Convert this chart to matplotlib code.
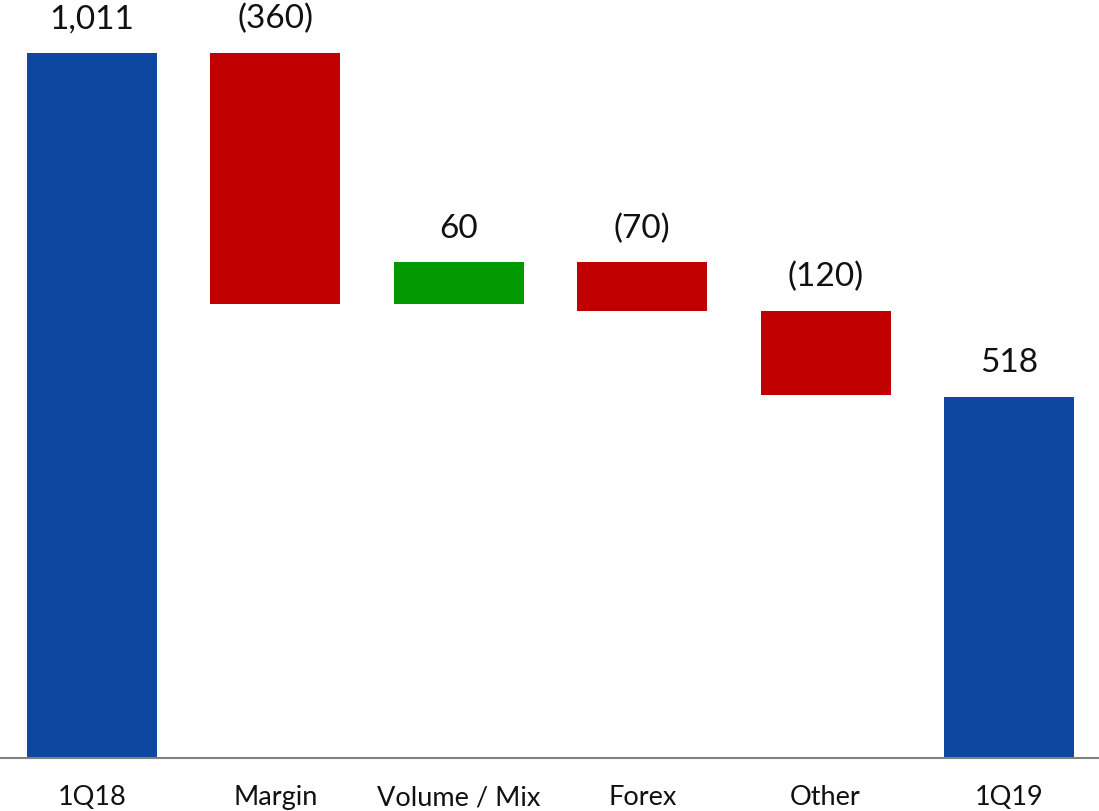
import matplotlib
matplotlib.use("Agg")
import matplotlib.pyplot as plt

categories = ["1Q18", "Margin", "Volume / Mix", "Forex", "Other", "1Q19"]
start_value = 1011
deltas = [-360, 60, -70, -120]
end_value = 518
value_labels = ["1,011", "(360)", "60", "(70)", "(120)", "518"]

BLUE = "#0E47A0"
RED = "#C00000"
GREEN = "#009900"

plt.rcParams["font.family"] = ["Lato", "DejaVu Sans"]

fig = plt.figure(figsize=(10.99, 8.12), dpi=100)
ax = fig.add_axes([0, 0.0653, 1, 0.9347])

bottoms, heights, colors = [], [], []
bottoms.append(0); heights.append(start_value); colors.append(BLUE)
level = start_value
for d in deltas:
    if d >= 0:
        bottoms.append(level); heights.append(d); colors.append(GREEN)
    else:
        bottoms.append(level + d); heights.append(-d); colors.append(RED)
    level += d
bottoms.append(0); heights.append(end_value); colors.append(BLUE)

x = list(range(len(categories)))
ax.bar(x, heights, bottom=bottoms, width=0.709, color=colors, linewidth=0)

for xi, b, h, lab in zip(x, bottoms, heights, value_labels):
    ax.annotate(lab, (xi, b + h), xytext=(0, 14), textcoords="offset points",
                ha="center", va="bottom", fontsize=24, color="#111111")

ax.set_xlim(-0.5016, 5.4907)
ax.set_ylim(0, 1088.5)
ax.set_xticks(x)
ax.set_xticklabels(categories, fontsize=19.5, color="#111111")
ax.tick_params(axis="x", length=0, pad=19)
ax.set_yticks([])
for s in ["top", "left", "right"]:
    ax.spines[s].set_visible(False)
ax.spines["bottom"].set_color("#808080")
ax.spines["bottom"].set_linewidth(1.5)

fig.savefig("out.png", dpi=100)
